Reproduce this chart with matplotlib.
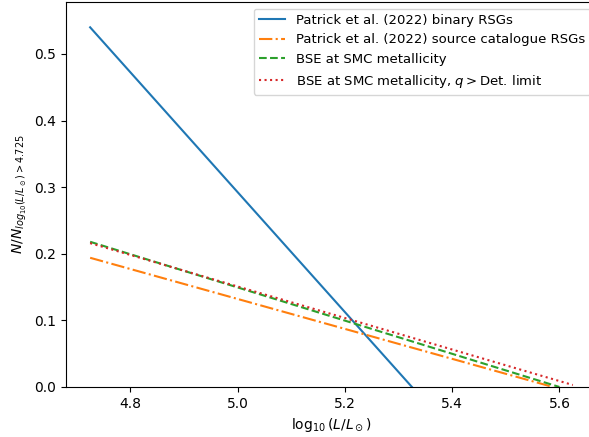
import matplotlib
matplotlib.use("Agg")
import matplotlib.pyplot as plt

# luminosity bins (log10 L/Lsun) and normalised cumulative fractions
patrick_bin_x = [4.725, 5.325]
patrick_bin_y = [0.54, 0.0]

patrick_cat_x = [4.725, 5.588]
patrick_cat_y = [0.194, 0.0]

bse_x = [4.725, 5.6]
bse_y = [0.218, 0.0]

bse_det_x = [4.725, 5.625]
bse_det_y = [0.216, 0.003]

fig = plt.figure(figsize=(5.89, 4.37), dpi=100)
ax = fig.add_axes([66 / 589, 50 / 437, 531 / 589, 385 / 437])

ax.plot(patrick_bin_x, patrick_bin_y, color="C0", label="Patrick et al. (2022) binary RSGs")
ax.plot(patrick_cat_x, patrick_cat_y, color="C1", linestyle="-.",
        label="Patrick et al. (2022) source catalogue RSGs")
ax.plot(bse_x, bse_y, color="C2", linestyle="--", label="BSE at SMC metallicity")
ax.plot(bse_det_x, bse_det_y, color="C3", linestyle=":",
        label=r"BSE at SMC metallicity, $q>$Det. limit")

ax.set_xlim(4.68, 5.67)
ax.set_ylim(0, 0.578)
ax.set_xlabel(r"$\log_{10}(L/L_\odot)$")
ax.set_ylabel(r"$N/N_{log_{10}(L/L_\odot)>4.725}$")
ax.legend(loc="upper right", fontsize=9.5)

fig.savefig("out.png", dpi=100)
